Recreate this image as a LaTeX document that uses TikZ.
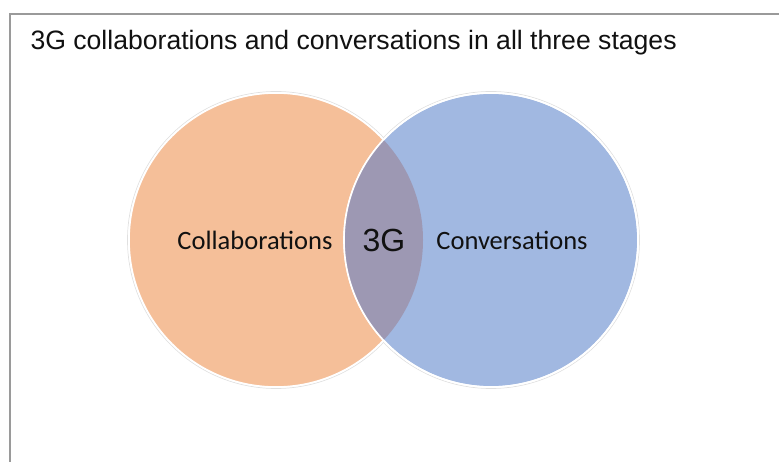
\documentclass[tikz,border=0pt]{standalone}
\usepackage{fontspec}
\setmainfont{Liberation Sans}
\newfontfamily\calib{Carlito}
\usepackage{tikz}
\usetikzlibrary{positioning}
\definecolor{frame}{HTML}{9A9A9A}
\definecolor{collab}{HTML}{F5BF99}
\definecolor{convo}{HTML}{A1B8E1}
\definecolor{both}{HTML}{9D98B3}
\definecolor{ink}{HTML}{111111}

\begin{document}
\begin{tikzpicture}[x=1pt,y=-1pt,font=\calib,
 ring/.style={circle,minimum size=294pt,inner sep=0pt,draw=white,line width=1.6pt},
 shade/.style={circle,minimum size=297pt,inner sep=0pt,draw=black!12,line width=0.7pt}]
\useasboundingbox (0,0) rectangle (779,462);
% page frame, cut off right and below
\draw[frame,line width=2pt] (9.5,470) -- (9.5,14) -- (790,14);
\node[anchor=base west,text=ink,font=\fontsize{26.6}{30}\selectfont] (title) at (27,50) {3G collaborations and conversations in all three stages};
% the two sets: centres at 276 and 491, radius 147
\node[shade] (collabrim) at (276,240) {};
\node[shade] (convorim) at (491,240) {};
\node[ring,fill=collab] (collabset) at (276,240) {};
\node[ring,fill=convo] (convoset) at (491,240) {};
\begin{scope}
 \clip (276,240) circle (147);
 \fill[both] (491,240) circle (147);
\end{scope}
\draw[white,line width=1.6pt] (491,240) circle (147);
\node[text=ink,font=\calib\fontsize{26.5}{30}\selectfont] (collabtxt) at (255,240) {Collaborations};
\node[text=ink,font=\fontsize{32}{36}\selectfont] (bothtxt) at (384,240) {3G};
\node[text=ink,font=\calib\fontsize{26.5}{30}\selectfont] (convotxt) at (512,240) {Conversations};
\end{tikzpicture}
\end{document}
